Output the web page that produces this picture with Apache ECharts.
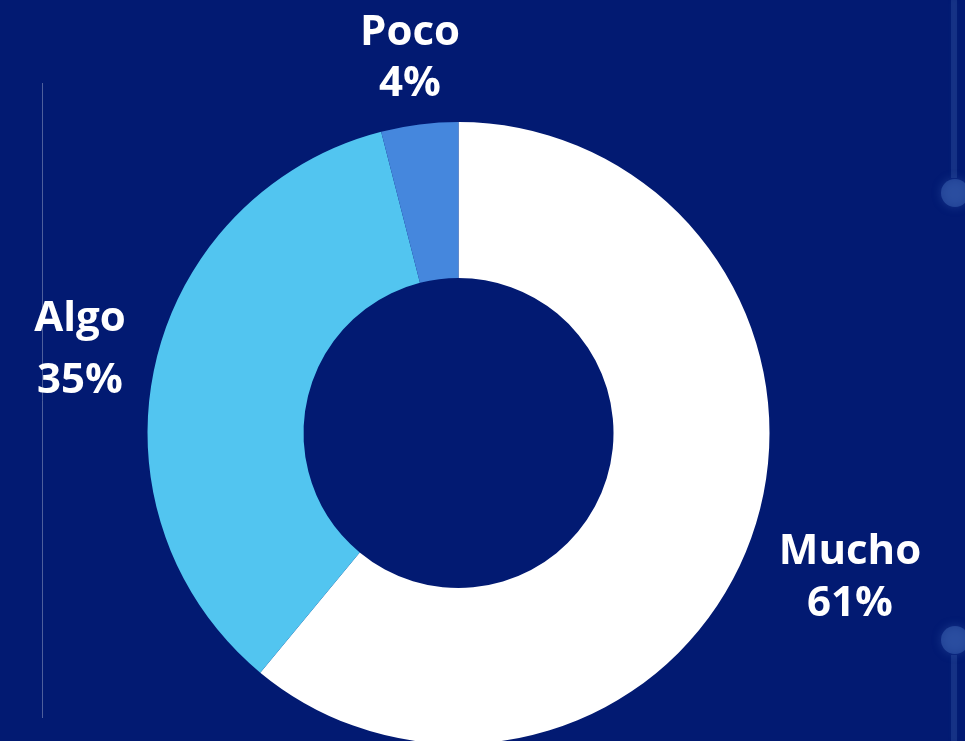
<!DOCTYPE html>
<html>
<head>
<meta charset="utf-8">
<script src="https://cdn.jsdelivr.net/npm/echarts@6/dist/echarts.min.js"></script>
<style>
  html, body { margin: 0; padding: 0; background: #021A72; }
  #chart { width: 965px; height: 741px; }
</style>
</head>
<body>
<div id="chart"></div>
<script>
// Response categories and their shares (%)
const categories = ['Mucho', 'Algo', 'Poco'];
const shares = [61, 35, 4];
const sliceColors = ['#FFFFFF', '#52C5F0', '#4587DD'];

// where each two-line label sits (centre of the text block)
const labelAnchors = [[850, 578], [80, 350], [410, 59]];
const labelLineHeights = [52, 62, 51];

const chart = echarts.init(document.getElementById('chart'));

chart.setOption({
  backgroundColor: '#021A72',
  graphic: [
    // thin vertical rule on the left
    { type: 'line', shape: { x1: 42.5, y1: 83, x2: 42.5, y2: 718 },
      style: { stroke: 'rgba(255,255,255,0.3)', lineWidth: 1 } },
    // decorative connectors on the right edge (soft, partly off-canvas)
    { type: 'line', shape: { x1: 954, y1: 0, x2: 954, y2: 178 },
      style: { stroke: 'rgba(90,130,200,0.2)', lineWidth: 6, shadowBlur: 4, shadowColor: 'rgba(90,130,200,0.3)' } },
    { type: 'circle', shape: { cx: 955, cy: 193, r: 14 },
      style: { fill: 'rgba(60,100,180,0.5)', shadowBlur: 10, shadowColor: 'rgba(60,100,180,0.8)' } },
    { type: 'circle', shape: { cx: 955, cy: 640, r: 14 },
      style: { fill: 'rgba(60,100,180,0.5)', shadowBlur: 10, shadowColor: 'rgba(60,100,180,0.8)' } },
    { type: 'line', shape: { x1: 954, y1: 655, x2: 954, y2: 741 },
      style: { stroke: 'rgba(90,130,200,0.2)', lineWidth: 6, shadowBlur: 4, shadowColor: 'rgba(90,130,200,0.3)' } }
  ],
  series: [{
    type: 'pie',
    center: [458.5, 433],
    radius: [155, 311],
    startAngle: 90,
    clockwise: true,
    animation: false,
    silent: true,
    labelLine: { show: false },
    data: categories.map((name, i) => ({
      name,
      value: shares[i],
      itemStyle: { color: sliceColors[i] },
      label: { lineHeight: labelLineHeights[i] }
    })),
    label: {
      show: true,
      position: 'outside',
      formatter: '{b}\n{c}%',
      color: '#FFFFFF',
      fontFamily: 'Open Sans',
      fontWeight: 'bold',
      fontSize: 42,
      overflow: 'none'
    },
    labelLayout: function (params) {
      const p = labelAnchors[params.dataIndex];
      return { x: p[0], y: p[1], align: 'center', verticalAlign: 'middle' };
    }
  }]
});
</script>
</body>
</html>
